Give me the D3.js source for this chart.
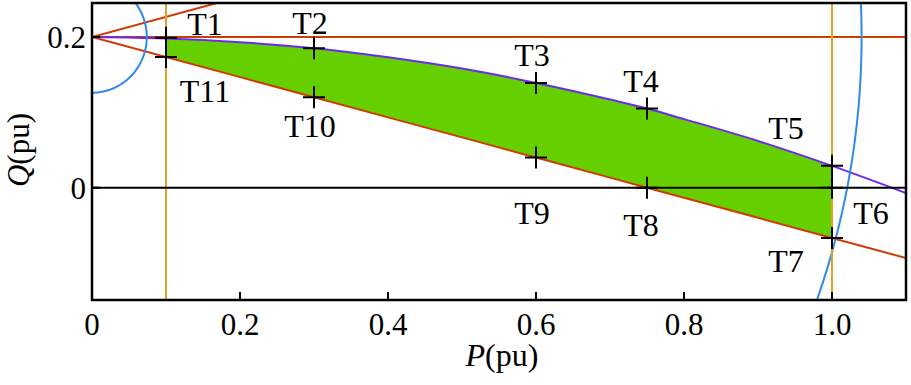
<!DOCTYPE html>
<html><head><meta charset="utf-8">
<script src="https://cdn.jsdelivr.net/npm/d3@7"></script>
</head><body style="margin:0">
<svg id="c" width="911" height="385"></svg>
<script>
// ---- data ----
const pGrid       = [0, 0.1, 0.2, 0.3, 0.4, 0.5, 0.6, 0.7, 0.75, 0.8, 0.9, 1.0, 1.1];
const qUpperCurve = [0.200, 0.198, 0.193, 0.185, 0.173, 0.158, 0.139, 0.117, 0.105, 0.091, 0.062, 0.029, -0.007];
const qLowerLine  = [0.200, 0.1733, 0.1467, 0.120, 0.0933, 0.0667, 0.040, 0.0133, 0.000, -0.0133, -0.040, -0.0667, -0.0933];
const upperRayP   = [0, 0.2];
const upperRayQ   = [0.2, 0.2533];
const qRefLevel   = 0.2;
const pLimits     = [0.1, 1.0];
const circleCenterP = [0, 0];
const circleCenterQ = [0.2, 0.2];
const circleRadius  = [0.074, 1.04];
const pointNames = ["T1","T2","T3","T4","T5","T6","T7","T8","T9","T10","T11"];
const pointP     = [0.1, 0.3, 0.6, 0.75, 1.0, 1.0, 1.0, 0.75, 0.6, 0.3, 0.1];
const pointQ     = [0.199, 0.185, 0.139, 0.105, 0.029, 0.0, -0.0667, 0.0, 0.04, 0.12, 0.1733];
const xTicks = [0, 0.2, 0.4, 0.6, 0.8, 1.0];
const xTickLabels = ["0", "0.2", "0.4", "0.6", "0.8", "1.0"];
const yTicks = [0, 0.2];
const yTickLabels = ["0", "0.2"];

// ---- layout / style ----
const L = 92, R = 906, T = 3, B = 300;
const x = d3.scaleLinear().domain([0, 1.1]).range([L, R]);
const y = d3.scaleLinear().domain([-0.149, 0.245]).range([B, T]);
const C = {red:"#d03a05", purple:"#6a2bf0", green:"#66cf00", orange:"#e2a227", blue:"#2f8ae8"};
const labelOffsets = [[39,-3],[-4,-14],[-4,-17],[-6,-17],[-46,-27],[39,36],[-46,34],[-6,48],[-4,66],[-4,40],[39,45]];

const svg = d3.select("#c");
svg.append("defs").append("clipPath").attr("id","clip")
  .append("rect").attr("x",L).attr("y",T).attr("width",R-L).attr("height",B-T);
const g = svg.append("g").attr("clip-path","url(#clip)");
const line = d3.line().x(d=>x(d[0])).y(d=>y(d[1]));

// green region
const idx = pGrid.map((p,i)=>i).filter(i=>pGrid[i]>=pLimits[0]-1e-9 && pGrid[i]<=pLimits[1]+1e-9);
const poly = idx.map(i=>[pGrid[i], qUpperCurve[i]]).concat(idx.slice().reverse().map(i=>[pGrid[i], qLowerLine[i]]));
g.append("path").attr("d", line(poly)+"Z").attr("fill", C.green).attr("stroke","none");

g.append("path").attr("d", line([[0,qRefLevel],[1.1,qRefLevel]])).attr("stroke",C.red).attr("stroke-width",2).attr("fill","none");
g.append("path").attr("d", line(upperRayP.map((p,i)=>[p,upperRayQ[i]]))).attr("stroke",C.red).attr("stroke-width",2).attr("fill","none");
g.append("path").attr("d", line(pGrid.map((p,i)=>[p,qLowerLine[i]]))).attr("stroke",C.red).attr("stroke-width",2).attr("fill","none");
g.append("path").attr("d", d3.line().x(d=>x(d[0])).y(d=>y(d[1])).curve(d3.curveMonotoneX)(pGrid.map((p,i)=>[p,qUpperCurve[i]])))
  .attr("stroke",C.purple).attr("stroke-width",2).attr("fill","none");

circleRadius.forEach((r,k)=>{
  const pts = d3.range(0, 181).map(a=>{ const t = (-90 + a) * Math.PI/180; return [circleCenterP[k] + r*Math.cos(t), circleCenterQ[k] + r*Math.sin(t)]; });
  g.append("path").attr("d", line(pts)).attr("stroke",C.blue).attr("stroke-width",2).attr("fill","none");
});

pLimits.forEach(p=>{
  g.append("path").attr("d", line([[p,-0.149],[p,0.245]])).attr("stroke",C.orange).attr("stroke-width",2).attr("fill","none");
});

g.append("path").attr("d", line([[0,0],[1.1,0]])).attr("stroke","#000").attr("stroke-width",2).attr("fill","none");

pointNames.forEach((n,i)=>{
  const cx = x(pointP[i]), cy = y(pointQ[i]);
  g.append("path").attr("d", `M${cx-11},${cy}H${cx+11}M${cx},${cy-11}V${cy+11}`).attr("stroke","#000").attr("stroke-width",2);
});

function txt(xp, yp, s, size, anchor) {
  const t = svg.append("text").attr("text-anchor", anchor || "middle")
    .attr("style", `font-family:'Liberation Serif';font-size:${size}px;`);
  if (xp !== null) t.attr("x", xp).attr("y", yp);
  if (s !== null) t.text(s);
  return t;
}

pointNames.forEach((n,i)=>{
  txt(x(pointP[i]) + labelOffsets[i][0], y(pointQ[i]) + labelOffsets[i][1], n, 32);
});

xTicks.forEach((t,i)=>{
  if (t>0) svg.append("line").attr("x1",x(t)).attr("x2",x(t)).attr("y1",B).attr("y2",B-8).attr("stroke","#000").attr("stroke-width",2);
  txt(x(t), 335, xTickLabels[i], 31);
});
yTicks.forEach((t,i)=>{
  svg.append("line").attr("x1",L).attr("x2",L+8).attr("y1",y(t)).attr("y2",y(t)).attr("stroke","#000").attr("stroke-width",2);
  txt(L-6, y(t)+11, yTickLabels[i], 31, "end");
});

svg.append("rect").attr("x",L).attr("y",T).attr("width",R-L).attr("height",B-T).attr("fill","none").attr("stroke","#000").attr("stroke-width",2.5);

const xt = txt(502, 366, null, 32);
xt.append("tspan").attr("font-style","italic").text("P");
xt.append("tspan").text("(pu)");
const yt = txt(null, null, null, 31).attr("transform","translate(29,150) rotate(-90)");
yt.append("tspan").attr("font-style","italic").text("Q");
yt.append("tspan").text("(pu)");
</script>
</body></html>
